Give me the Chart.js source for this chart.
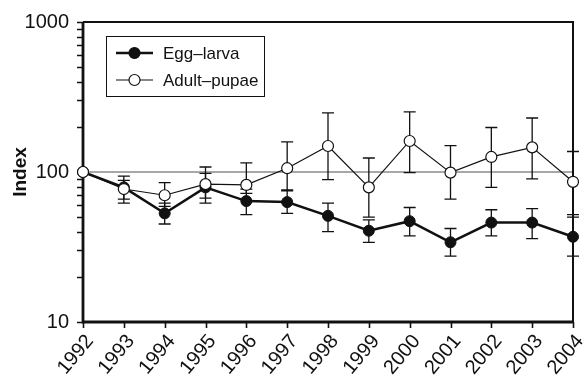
<!DOCTYPE html>
<html>
<head>
<meta charset="utf-8">
<script src="https://cdn.jsdelivr.net/npm/chart.js@4.4.1/dist/chart.umd.min.js"></script>
<style>
  html, body { margin: 0; padding: 0; background: #fff; }
  #wrap { width: 583px; height: 377px; }
</style>
</head>
<body>
<div id="wrap"><canvas id="chart"></canvas></div>
<script>
// data (index, log scale)
const years = ['1992', '1993', '1994', '1995', '1996', '1997', '1998', '1999', '2000', '2001', '2002', '2003', '2004'];

const eggLarva     = [100, 79, 53, 79, 64, 63, 51, 40.6, 47, 34, 46, 46, 37];
const eggLarvaHigh = [null, 94, 62, 98, 77, 76, 62, 48, 58, 42, 56, 57, 52];
const eggLarvaLow  = [null, 62, 45, 62, 52, 53, 40, 34, 37.5, 27.5, 37.5, 36, 27.5];

const adultPupae     = [100, 77, 70, 83, 82, 106, 149, 79, 161, 99, 126, 146, 86];
const adultPupaeHigh = [null, 88, 85, 108, 115, 159, 248, 124, 252, 150, 198, 229, 137];
const adultPupaeLow  = [null, 66, 59, 67, 72, 75, 89, 50, 99, 66, 79, 90, 50];

const yTickValues = [10, 20, 30, 40, 50, 60, 70, 80, 90, 100, 200, 300, 400, 500, 600, 700, 800, 900, 1000];
const yTickLabels = [10, 100, 1000];
const refLevel = 100;

const FONT = '"Liberation Sans", Arial, Helvetica, sans-serif';
const INK = '#111';

// error bars, reference line, tick marks and frame
const extras = {
    id: 'extras',
    beforeDatasetsDraw(chart) {
        const { ctx, chartArea, scales: { x, y } } = chart;
        const { left, right, top, bottom } = chartArea;
        ctx.save();
        // reference line
        const ry = y.getPixelForValue(refLevel);
        ctx.strokeStyle = '#8a8a8a';
        ctx.lineWidth = 1.3;
        ctx.beginPath();
        ctx.moveTo(left, ry);
        ctx.lineTo(right, ry);
        ctx.stroke();

        // error bars
        ctx.strokeStyle = INK;
        ctx.lineWidth = 1.3;
        const cap = 6;
        [[eggLarvaHigh, eggLarvaLow], [adultPupaeHigh, adultPupaeLow]].forEach(([hi, lo]) => {
            hi.forEach((h, i) => {
                if (h == null) return;
                const px = x.getPixelForValue(i);
                const t = y.getPixelForValue(h);
                const b = y.getPixelForValue(lo[i]);
                ctx.beginPath();
                ctx.moveTo(px, t); ctx.lineTo(px, b);
                ctx.moveTo(px - cap, t); ctx.lineTo(px + cap, t);
                ctx.moveTo(px - cap, b); ctx.lineTo(px + cap, b);
                ctx.stroke();
            });
        });

        // tick marks
        ctx.lineWidth = 1.6;
        ctx.beginPath();
        yTickValues.forEach(v => {
            const py = Math.round(y.getPixelForValue(v)) + 0.5;
            ctx.moveTo(left - 6, py); ctx.lineTo(left, py);
        });
        years.forEach((_, i) => {
            const px = Math.round(x.getPixelForValue(i)) + 0.5;
            ctx.moveTo(px, bottom); ctx.lineTo(px, bottom + 6);
        });
        ctx.stroke();

        // frame: left/bottom a bit heavier
        ctx.lineWidth = 2;
        ctx.beginPath();
        ctx.moveTo(left, top); ctx.lineTo(right, top); ctx.lineTo(right, bottom);
        ctx.stroke();
        ctx.lineWidth = 2.8;
        ctx.beginPath();
        ctx.moveTo(left, top); ctx.lineTo(left, bottom); ctx.lineTo(right, bottom);
        ctx.stroke();
        ctx.restore();
    },
    afterDraw(chart) {
        // legend box inside the plot
        const { ctx } = chart;
        ctx.save();
        ctx.strokeStyle = INK;
        ctx.lineWidth = 1;
        ctx.strokeRect(106.5, 36.5, 158, 60);
        ctx.font = '17px ' + FONT;
        ctx.textBaseline = 'middle';
        ctx.fillStyle = INK;
        const rows = [
            { y: 53, ds: chart.data.datasets[1] },
            { y: 80, ds: chart.data.datasets[0] }
        ];
        rows.forEach(r => {
            ctx.strokeStyle = INK;
            ctx.lineWidth = r.ds.borderWidth;
            ctx.beginPath();
            ctx.moveTo(116, r.y); ctx.lineTo(153, r.y);
            ctx.stroke();
            ctx.beginPath();
            ctx.arc(134.5, r.y, 5.5, 0, Math.PI * 2);
            ctx.fillStyle = r.ds.pointBackgroundColor;
            ctx.fill();
            ctx.lineWidth = 1.2;
            ctx.stroke();
            ctx.fillStyle = INK;
            ctx.fillText(r.ds.label, 163, r.y + 1);
        });
        ctx.restore();
    }
};

new Chart(document.getElementById('chart'), {
    type: 'line',
    data: {
        labels: years,
        datasets: [
            {
                label: 'Adult\u2013pupae',
                data: adultPupae,
                borderColor: INK,
                borderWidth: 1.2,
                pointRadius: 5.5,
                pointBackgroundColor: '#fff',
                pointBorderColor: INK,
                pointBorderWidth: 1.2,
                tension: 0,
                clip: false
            },
            {
                label: 'Egg\u2013larva',
                data: eggLarva,
                borderColor: INK,
                borderWidth: 2.5,
                pointRadius: 5.5,
                pointBackgroundColor: INK,
                pointBorderColor: INK,
                pointBorderWidth: 1,
                tension: 0,
                clip: false
            }
        ]
    },
    options: {
        responsive: true,
        maintainAspectRatio: false,
        animation: false,
        layout: { padding: { top: 22, right: 10, left: 0, bottom: 0 } },
        plugins: { legend: { display: false }, tooltip: { enabled: false } },
        scales: {
            x: {
                offset: false,
                border: { display: false },
                grid: { display: false },
                ticks: {
                    color: INK,
                    font: { family: FONT, size: 20 },
                    minRotation: 50,
                    maxRotation: 50,
                    padding: 0,
                    labelOffset: 7,
                    autoSkip: false
                },
                afterFit(scale) {
                    scale.height = 55;
                    scale.paddingLeft = 0;
                    scale.paddingRight = 0;
                }
            },
            y: {
                type: 'logarithmic',
                min: 10,
                max: 1000,
                border: { display: false },
                grid: { display: false },
                ticks: {
                    color: INK,
                    font: { family: FONT, size: 20 },
                    padding: 6,
                    autoSkip: false,
                    callback: v => yTickLabels.includes(v) ? String(v) : ''
                },
                afterBuildTicks(scale) {
                    scale.ticks = yTickValues.map(v => ({ value: v, major: yTickLabels.includes(v) }));
                },
                title: {
                    display: true,
                    text: 'Index',
                    color: INK,
                    font: { family: FONT, size: 19, weight: 'bold' },
                    padding: { top: 9, bottom: 0 }
                },
                afterFit(scale) {
                    scale.width = 83;
                    scale.paddingTop = 0;
                    scale.paddingBottom = 0;
                }
            }
        }
    },
    plugins: [extras]
});
</script>
</body>
</html>
